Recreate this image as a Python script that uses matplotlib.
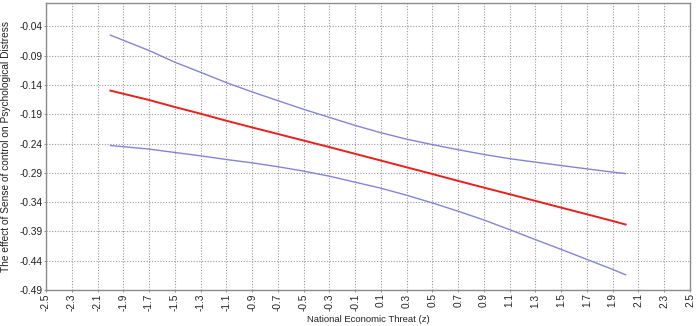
import numpy as np
import matplotlib
matplotlib.use("Agg")
import matplotlib.pyplot as plt

# Data
x_vals = [-2.0, -1.7, -1.5, -1.3, -1.1, -0.9, -0.7, -0.5, -0.3, -0.1,
          0.1, 0.3, 0.5, 0.7, 0.9, 1.1, 1.3, 1.5, 1.7, 1.9, 2.0]
effect = [-0.1496, -0.1656, -0.1776, -0.1890, -0.2010, -0.2124, -0.2236,
          -0.2348, -0.2460, -0.2575, -0.2690, -0.2805, -0.2920, -0.3037,
          -0.3152, -0.3265, -0.3379, -0.3494, -0.3607, -0.3722, -0.3782]
upper = [-0.0549, -0.0811, -0.1011, -0.1183, -0.1359, -0.1518, -0.1667,
         -0.1815, -0.1953, -0.2090, -0.2215, -0.2325, -0.2418, -0.2505,
         -0.2586, -0.2658, -0.2717, -0.2775, -0.2832, -0.2888, -0.2912]
lower = [-0.2433, -0.2494, -0.2552, -0.2609, -0.2672, -0.2729, -0.2795,
         -0.2870, -0.2957, -0.3059, -0.3162, -0.3282, -0.3414, -0.3555,
         -0.3705, -0.3870, -0.4040, -0.4207, -0.4378, -0.4549, -0.4640]

x_ticks = [round(-2.5 + 0.2 * i, 1) for i in range(26)]
y_ticks = [round(-0.49 + 0.05 * i, 2) for i in range(10)]

plt.rcParams['font.family'] = ['Liberation Sans', 'DejaVu Sans']

fig = plt.figure(figsize=(7.0, 3.26), dpi=100)
ax = fig.add_axes([46 / 700, 1 - 290 / 326, 644 / 700, 287 / 326])

ax.plot(x_vals, upper, color='#8484d6', lw=1.0)
ax.plot(x_vals, lower, color='#8484d6', lw=1.0)
ax.plot(x_vals, effect, color='#e8201e', lw=1.4)

ax.set_xlim(-2.5, 2.5)
ax.set_ylim(-0.49, 0.0)
ax.set_xticks(x_ticks)
ax.set_xticklabels([f"{t:.1f}" for t in x_ticks], rotation=90)
ax.set_yticks(y_ticks)
ax.set_yticklabels([f"{t:.2f}" for t in y_ticks])
ax.tick_params(axis='both', length=1.5, width=0.6, color='#808080',
               labelsize=7.3, labelcolor='#222222', pad=1)
ax.grid(True, color='#999999', linestyle=(0, (1, 1.5)), linewidth=0.8)

for s in ax.spines.values():
    s.set_color('#8c8c8c')
    s.set_linewidth(1.0)

ax.set_xlabel('National Economic Threat (z)', fontsize=6.8, color='#222222',
              labelpad=3)
ax.set_ylabel('The effect of Sense of control on Psychological Distress',
              fontsize=7.3, color='#222222', labelpad=6)

fig.savefig('out.png', dpi=100)
